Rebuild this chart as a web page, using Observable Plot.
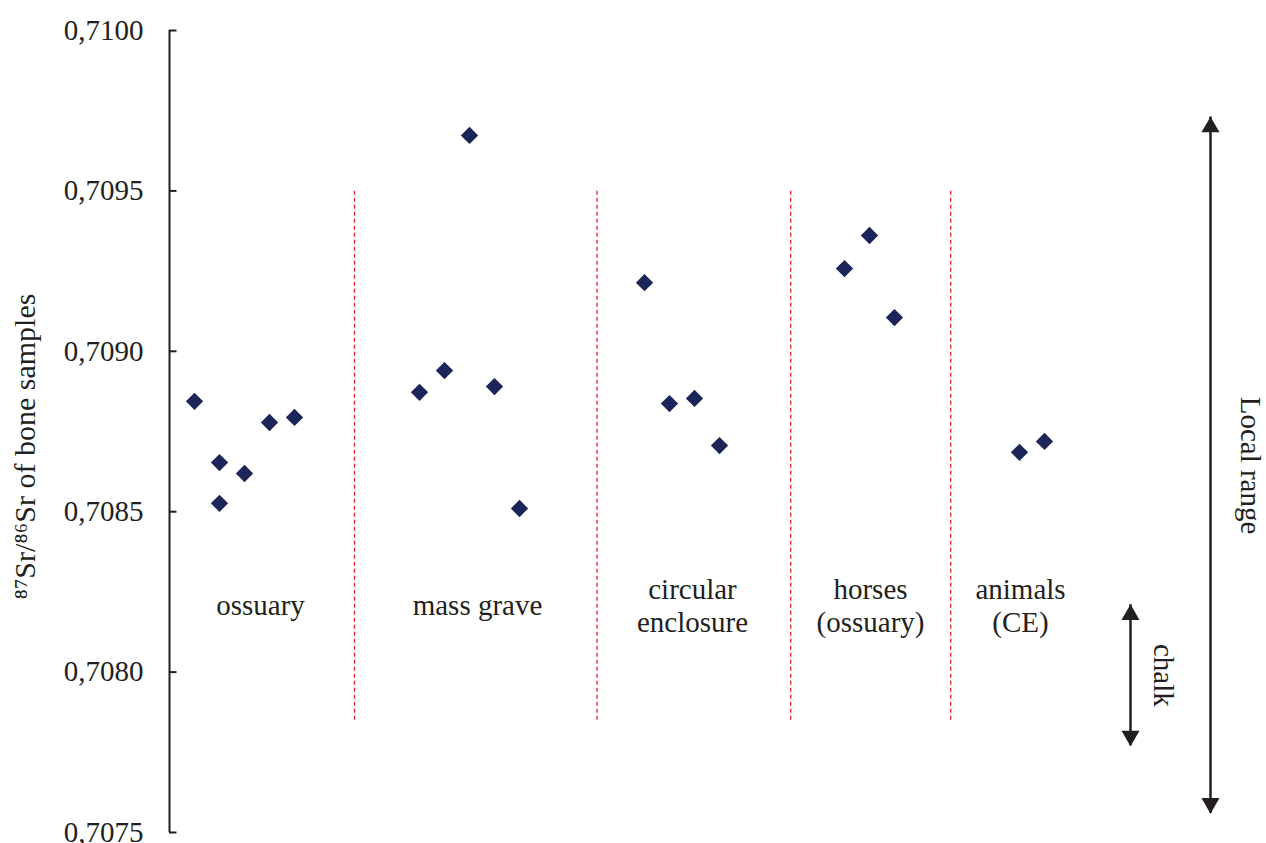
<!DOCTYPE html>
<html>
<head>
<meta charset="utf-8">
<script src="https://cdn.jsdelivr.net/npm/d3@7"></script>
<script src="https://cdn.jsdelivr.net/npm/@observablehq/plot@0.6"></script>
<style>
  html, body { margin: 0; padding: 0; background: #fff; }
  svg { display: block; }
</style>
</head>
<body>
<div id="chart"></div>
<script>
// ---- data ----
const groups = ["ossuary", "mass grave", "circular enclosure", "horses (ossuary)", "animals (CE)"];
const groupLabels = ["ossuary", "mass grave", "circular\nenclosure", "horses\n(ossuary)", "animals\n(CE)"];
const sampleIndex = [
  [1, 2, 2, 3, 4, 5],
  [10, 11, 12, 13, 14],
  [19, 20, 21, 22],
  [27, 28, 29],
  [34, 35]
];
const srValues = [
  [0.708844, 0.708653, 0.708526, 0.708619, 0.708778, 0.708794],
  [0.708872, 0.708940, 0.709673, 0.708890, 0.708510],
  [0.709214, 0.708837, 0.708853, 0.708706],
  [0.709258, 0.709361, 0.709105],
  [0.708685, 0.708719]
];
const dividers = [7.4, 17.1, 24.85, 31.25];
const yTicks = [0.7075, 0.7080, 0.7085, 0.7090, 0.7095, 0.7100];
const localRange = [0.70756, 0.70973];
const chalkRange = [0.70777, 0.70821];

// ---- build table ----
const points = [];
groups.forEach((g, gi) => {
  srValues[gi].forEach((v, k) => points.push({group: g, i: sampleIndex[gi][k], sr: v}));
});
const labelPos = [3.64, 12.32, 20.92, 28.04, 34.04];
const labels = groupLabels.map((t, k) => ({text: t, x: labelPos[k]}));

const font = "'Liberation Serif', 'Times New Roman', serif";
const ink = "#231f20";
const xArrowLocal = 41.64, xArrowChalk = 38.44;

const arrowTips = [
  {x: xArrowLocal, y: localRange[1], up: true},
  {x: xArrowLocal, y: localRange[0], up: false},
  {x: xArrowChalk, y: chalkRange[1], up: true},
  {x: xArrowChalk, y: chalkRange[0], up: false}
];

const chart = Plot.plot({
  width: 1266,
  height: 843,
  marginLeft: 169,
  marginRight: 0,
  marginTop: 30,
  marginBottom: 11,
  style: {fontFamily: font, background: "#fff", overflow: "visible"},
  x: {domain: [0, 1097 / 25], axis: null},
  y: {domain: [0.7075, 0.7100]},
  marks: [
    Plot.axisY({
      ticks: yTicks,
      tickSize: 0,
      tickPadding: 26,
      tickFormat: d => d.toFixed(4).replace(".", ","),
      fontSize: 29,
      fill: ink,
      label: null
    }),
    // axis line and inward ticks
    Plot.ruleX([0], {y1: 0.7075, y2: 0.7100, stroke: ink, strokeWidth: 2}),
    Plot.ruleY(yTicks, {x1: 0, x2: 0.3, stroke: ink, strokeWidth: 2}),
    // group dividers
    Plot.ruleX(dividers, {y1: 0.70785, y2: 0.7095, stroke: "#e8202a", strokeWidth: 1.3, strokeDasharray: "4,3"}),
    // data
    Plot.dot(points, {x: "i", y: "sr", symbol: "diamond2", r: 7.8, fill: "#1c2559", stroke: null}),
    // group labels
    Plot.text(labels, {x: "x", y: 0.70821, text: "text", fontSize: 29, lineHeight: 1.13, fill: ink}),
    // range arrows
    Plot.ruleX([xArrowLocal], {y1: localRange[0], y2: localRange[1], stroke: ink, strokeWidth: 2.5}),
    Plot.ruleX([xArrowChalk], {y1: chalkRange[0], y2: chalkRange[1], stroke: ink, strokeWidth: 2.5}),
    Plot.dot(arrowTips.filter(d => d.up), {x: "x", y: "y", symbol: "triangle", r: 6.7, fill: ink, stroke: null, dy: 10}),
    Plot.dot(arrowTips.filter(d => !d.up), {x: "x", y: "y", symbol: "triangle", r: 6.7, fill: ink, stroke: null, rotate: 180, dy: -10}),
    Plot.text(["Local range"], {x: xArrowLocal + 1.6, y: 0.708644, text: d => d, rotate: 90, fontSize: 29, fill: ink}),
    Plot.text(["chalk"], {x: xArrowChalk + 1.3, y: 0.70799, text: d => d, rotate: 90, fontSize: 29, fill: ink}),
    // y axis title
    Plot.text(["⁸⁷Sr/⁸⁶Sr of bone samples"], {x: -5.76, y: 0.708703, text: d => d, rotate: -90, fontSize: 30, fill: ink})
  ]
});
document.getElementById("chart").appendChild(chart);
</script>
</body>
</html>
